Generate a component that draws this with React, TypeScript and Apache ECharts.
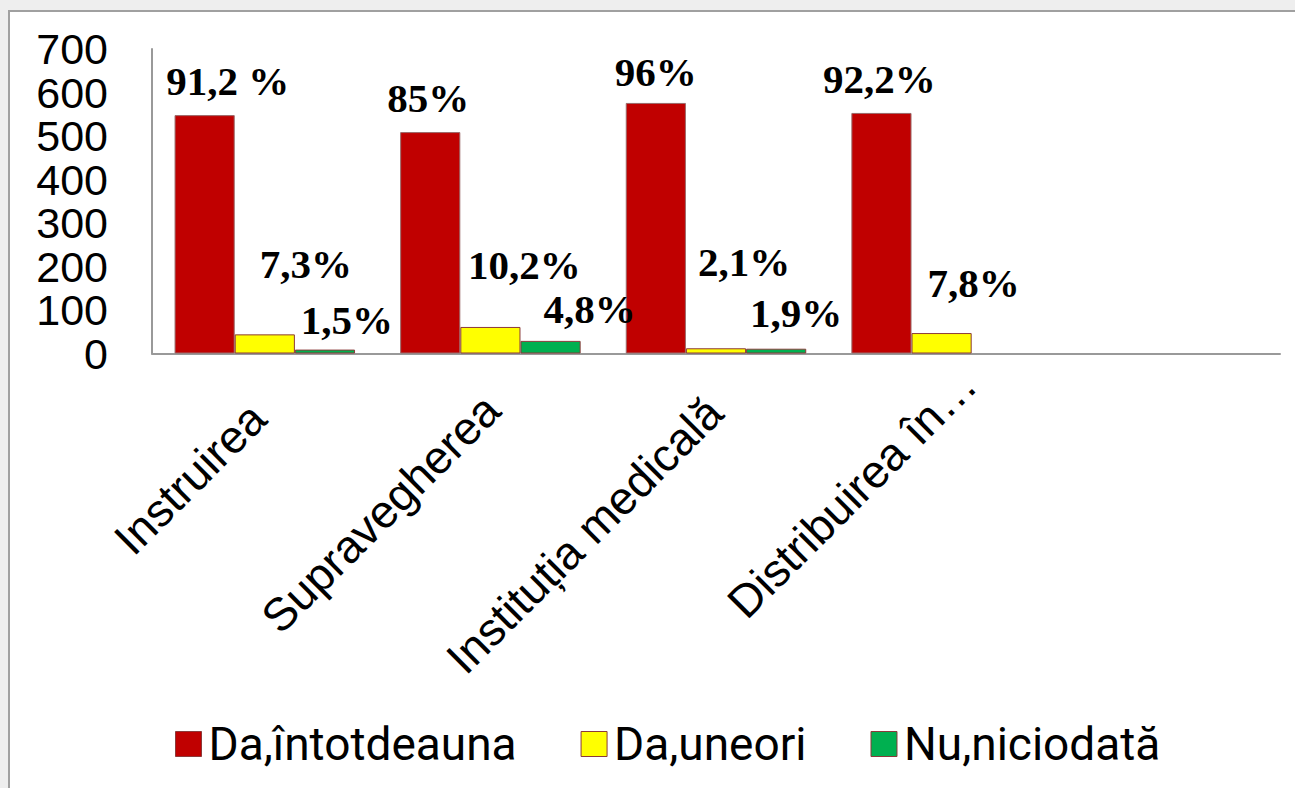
import { useEffect, useRef } from "react";
import * as echarts from "echarts";

// ---- data ----
const categories = ["Instruirea", "Supravegherea", "Instituția medicală", "Distribuirea în…", ""];
const seriesNames = ["Da,întotdeauna", "Da,uneori", "Nu,niciodată"];
const alwaysValues = [548, 509, 576, 553, null];
const sometimesValues = [44, 61, 12, 47, null];
const neverValues = [9, 29, 11, null, null];
const alwaysLabels = ["91,2 %", "85%", "96%", "92,2%", ""];
const sometimesLabels = ["7,3%", "10,2%", "2,1%", "7,8%", ""];
const neverLabels = ["1,5%", "4,8%", "1,9%", "", ""];
const yMin = 0;
const yMax = 700;
const yInterval = 100;

// ---- layout (label offsets relative to bar tops; category label shifts) ----
const alwaysOffsets = [[23, -14], [-2, -14], [0, -11], [-2, -14], [0, 0]];
const sometimesOffsets = [[41, -50], [34, -42], [28, -66], [32, -30], [0, 0]];
const neverOffsets = [[22, -10], [39, -12], [20, -16], [0, 0], [0, 0]];
const categoryRightPadding = [10, -2, 2, -38, 0];

const colors = ["#C00000", "#FFFF00", "#00B050"];

function build(values: (number | null)[], labels: string[], offsets: number[][]) {
  return values.map((v, i) => ({
    value: v,
    label: { formatter: labels[i], offset: offsets[i] },
  }));
}

export default function App() {
  const ref = useRef<HTMLDivElement>(null);
  useEffect(() => {
    if (!ref.current) return;
    const chart = echarts.init(ref.current, undefined, { renderer: "svg" });
    const labelStyle = {
      show: true,
      position: "top",
      distance: 0,
      fontFamily: "'Liberation Serif', 'Times New Roman', serif",
      fontWeight: "bold",
      fontSize: 41,
      lineHeight: 40,
      color: "#000",
    };
    const mk = (idx: number, values: (number | null)[], labels: string[], offsets: number[][]) => ({
      name: seriesNames[idx],
      type: "bar",
      data: build(values, labels, offsets),
      barGap: "0%",
      barCategoryGap: "20%",
      itemStyle: { color: colors[idx], borderColor: idx === 0 ? "#9a6a6a" : "#8B3A3A", borderWidth: 1 },
      label: labelStyle,
    });
    chart.setOption({
      animation: false,
      backgroundColor: "transparent",
      grid: { left: 152, right: 15, top: 49, bottom: 434.5, containLabel: false },
      legend: {
        left: 170,
        top: 716,
        itemWidth: 26,
        itemHeight: 25,
        itemGap: 64,
        icon: "rect",
        textStyle: { fontFamily: "Roboto, 'Liberation Sans', Arial, sans-serif", fontSize: 46, color: "#000", padding: [0, 0, 0, 2] },
        data: seriesNames.map((n, i) => ({ name: n, itemStyle: { color: colors[i], borderColor: "#8B3A3A", borderWidth: 1 } })),
      },
      xAxis: {
        type: "category",
        data: categories.map((c, i) => ({ value: c, textStyle: { padding: [0, categoryRightPadding[i], 0, 0] } })),
        axisLine: { show: true, lineStyle: { color: "#999", width: 2 } },
        axisTick: { show: false },
        axisLabel: {
          interval: 0,
          rotate: 45,
          margin: 50,
          fontFamily: "'Liberation Sans', Arial, sans-serif",
          fontSize: 46,
          color: "#000",
        },
      },
      yAxis: {
        type: "value",
        min: yMin,
        max: yMax,
        interval: yInterval,
        splitLine: { show: false },
        axisTick: { show: false },
        axisLine: { show: true, lineStyle: { color: "#999", width: 2 } },
        axisLabel: {
          margin: 44,
          showMinLabel: true,
          showMaxLabel: true,
          hideOverlap: false,
          fontFamily: "'Liberation Sans', Arial, sans-serif",
          fontSize: 43,
          lineHeight: 40,
          color: "#000",
        },
      },
      series: [
        mk(0, alwaysValues, alwaysLabels, alwaysOffsets),
        mk(1, sometimesValues, sometimesLabels, sometimesOffsets),
        mk(2, neverValues, neverLabels, neverOffsets),
      ],
    });
    return () => chart.dispose();
  }, []);
  return (
    <div style={{ position: "fixed", left: 0, top: 0, width: 1295, height: 788, background: "#eeeeee", overflow: "hidden" }}>
      <div
        style={{
          position: "absolute",
          left: 8,
          top: 10,
          width: 1400,
          height: 900,
          background: "#ffffff",
          border: "2px solid #a0a0a0",
        }}
      />
      <div ref={ref} style={{ position: "absolute", left: 0, top: 0, width: 1295, height: 788 }} />
    </div>
  );
}
